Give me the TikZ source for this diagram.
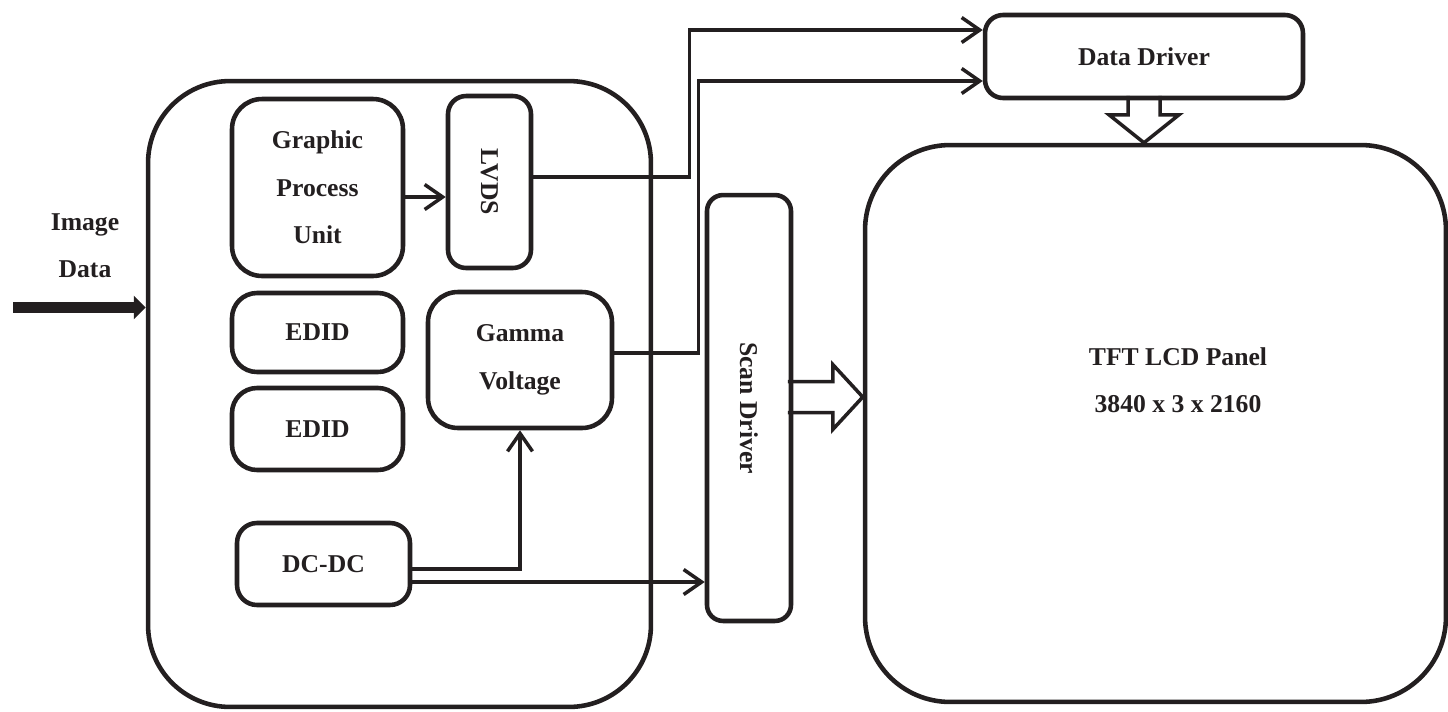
\documentclass[tikz,border=0pt]{standalone}
\usepackage{fontspec}
\setmainfont{Liberation Serif}
\usepackage{graphicx}
\usetikzlibrary{positioning,arrows.meta,calc}
\definecolor{trait}{RGB}{35,31,32}
\tikzset{
  >={Straight Barb[length=0.36cm, width=0.5cm]},
  bloc/.style={draw=trait, line width=2.6pt, rounded corners=#1, align=center, inner sep=0pt},
  bloc/.default=0.5cm,
  fleche/.style={->, line width=2pt, draw=trait},
  flechecreuse/.style={draw=trait, line width=2pt, line join=miter},
  grossefleche/.style={-{Triangle[length=0.24cm, width=0.46cm]}, line width=0.22cm, draw=trait},
}

\begin{document}
\begin{tikzpicture}[x=0.02cm, y=-0.02cm, font=\fontsize{14.6}{27}\selectfont\bfseries, text=trait]
  \useasboundingbox (0,0) rectangle (1448,711);
  % Carte de commande
  \node[bloc=1.64cm, minimum width=10.06cm, minimum height=12.52cm] (carte) at (399.5,394) {};
  \node[bloc=0.6cm, minimum width=3.42cm, minimum height=3.54cm] (gpu) at (317.5,187.5) {Graphic\\Process\\Unit};
  \node[bloc=0.36cm, minimum width=1.66cm, minimum height=3.44cm] (lvds) at (489.5,182) {\rotatebox{-90}{LVDS}};
  \node[bloc=0.5cm, minimum width=3.42cm, minimum height=1.58cm] (edid1) at (317.5,332.5) {EDID};
  \node[bloc=0.5cm, minimum width=3.42cm, minimum height=1.64cm] (edid2) at (317.5,429) {EDID};
  \node[bloc=0.6cm, minimum width=3.68cm, minimum height=2.72cm] (gamma) at (520,360) {Gamma\\Voltage};
  \node[bloc=0.4cm, minimum width=3.46cm, minimum height=1.64cm] (dcdc) at (323.5,564) {DC-DC};
  % Pilotes et dalle
  \node[bloc=0.32cm, minimum width=1.68cm, minimum height=8.52cm] (scan) at (749,408) {\rotatebox{-90}{Scan Driver}};
  \node[bloc=0.36cm, minimum width=6.36cm, minimum height=1.66cm] (ddriver) at (1144,56.5) {Data Driver};
  \node[bloc=1.7cm, minimum width=11.62cm, minimum height=11.14cm] (panel) at (1155.5,423.5) {};
  \node[align=center] (paneltxt) at (1178,380) {TFT LCD Panel\\3840 x 3 x 2160};
  % Entree image
  \node[align=center] (imgtxt) at (85,246) {Image\\Data};
  \coordinate (imgin) at (13,307.5);
  \draw[grossefleche] (imgin) -- (imgin -| carte.west);
  % Liaisons
  \coordinate (ddin1) at ([yshift=0.53cm]ddriver.west);
  \coordinate (ddin2) at ([yshift=-0.49cm]ddriver.west);
  \draw[fleche] ([yshift=-0.19cm]gpu.east) -- ([yshift=-0.19cm]gpu.east -| lvds.west);
  \draw[fleche] ([yshift=0.1cm]lvds.east) -- ++(156,0) |- (ddin1);
  \draw[fleche] ([yshift=0.14cm]gamma.east) -- ++(84,0) |- (ddin2);
  \draw[fleche] ([yshift=-0.1cm]dcdc.east) -| (gamma.south);
  \draw[fleche] ([yshift=-0.36cm]dcdc.east) -- ([yshift=-0.36cm]dcdc.east -| scan.west);
  % Fleches creuses vers la dalle
  \coordinate (stip) at ($(scan.east -| panel.west)+(0,-11)$);
  \draw[flechecreuse] ($(stip)+(-75,-15.5)$) -- ++(45,0) -- ++(0,-17) -- (stip) -- ++(-30,32.5) -- ++(0,-17) -- ++(-45,0);
  \coordinate (dtip) at (ddriver.south |- panel.north);
  \draw[flechecreuse] ($(dtip)+(-16,-47)$) -- ++(0,19) -- ++(-19,0) -- (dtip) -- ++(35,-28) -- ++(-19,0) -- ++(0,-19);
\end{tikzpicture}
\end{document}
